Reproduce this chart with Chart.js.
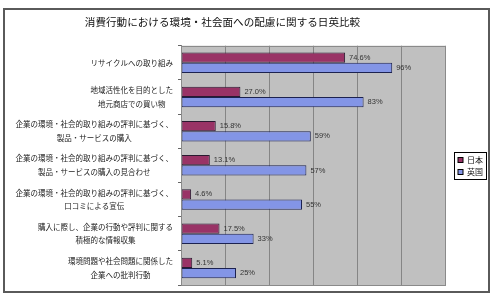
<!DOCTYPE html>
<html><head><meta charset="utf-8">
<script src="https://cdn.jsdelivr.net/npm/chart.js@4"></script>
<style>html,body{margin:0;padding:0;background:#fff}#wrap{width:493px;height:294px}</style>
</head><body><div id="wrap"><canvas id="c" width="493" height="294"></canvas></div>
<script>
const categories = [
  ["リサイクルへの取り組み"],
  ["地域活性化を目的とした","地元商店での買い物"],
  ["企業の環境・社会的取り組みの評判に基づく、","製品・サービスの購入"],
  ["企業の環境・社会的取り組みの評判に基づく、","製品・サービスの購入の見合わせ"],
  ["企業の環境・社会的取り組みの評判に基づく、","口コミによる宣伝"],
  ["購入に際し、企業の行動や評判に関する","積極的な情報収集"],
  ["環境問題や社会問題に関係した","企業への批判行動"]
];
const seriesNames = ["日本","英国"];
const japan = [74.6, 27.0, 15.8, 13.1, 4.6, 17.5, 5.1];
const uk = [96, 83, 59, 57, 55, 33, 25];
const decimals = [1, 0];
const titleText = "消費行動における環境・社会面への配慮に関する日英比較";

const JP = '"Noto Sans CJK JP", sans-serif';
const colors = ['#993366', '#8395e6'];

const framePlugin = {
  id: 'frame',
  beforeDraw(chart) {
    const ctx = chart.ctx, a = chart.chartArea;
    ctx.save();
    ctx.fillStyle = '#fff';
    ctx.fillRect(0, 0, chart.width, chart.height);
    ctx.strokeStyle = '#5a5a5a';
    ctx.lineWidth = 2;
    ctx.strokeRect(4, 9, 485, 283);
    ctx.fillStyle = '#c0c0c0';
    ctx.fillRect(a.left, a.top, a.right - a.left, a.bottom - a.top);
    ctx.restore();
  },
  afterDraw(chart) {
    const ctx = chart.ctx, a = chart.chartArea;
    ctx.save();
    ctx.strokeStyle = '#8a8a8a';
    ctx.lineWidth = 1;
    ctx.strokeRect(Math.round(a.left) + 0.5, Math.round(a.top) + 0.5, Math.round(a.right - a.left), Math.round(a.bottom - a.top));
    // category labels
    const ys = chart.scales.y;
    ctx.fillStyle = '#222';
    ctx.font = '7.5px ' + JP;
    ctx.textAlign = 'center';
    ctx.textBaseline = 'middle';
    const lh = 13.5, rightEdge = 173;
    categories.forEach((lines, i) => {
      const cy = ys.getPixelForValue(i);
      const w = Math.max(...lines.map(l => ctx.measureText(l).width));
      const cx = rightEdge - w / 2;
      const y0 = cy - (lines.length - 1) * lh / 2;
      lines.forEach((l, k) => ctx.fillText(l, cx, y0 + k * lh));
    });
    // data labels
    ctx.font = '7.5px "Liberation Sans", sans-serif';
    ctx.textAlign = 'left';
    ctx.fillStyle = '#333';
    chart.data.datasets.forEach((ds, di) => {
      const meta = chart.getDatasetMeta(di);
      meta.data.forEach((bar, i) => {
        ctx.fillText(ds.data[i].toFixed(decimals[di]) + '%', bar.x + 4, bar.y);
      });
    });
    // legend
    ctx.strokeStyle = '#000';
    ctx.lineWidth = 1;
    ctx.strokeRect(454.5, 152.5, 32, 27);
    ctx.font = '8px ' + JP;
    ctx.fillStyle = '#111';
    seriesNames.forEach((n, k) => {
      const y = 160 + k * 12;
      ctx.fillStyle = colors[k];
      ctx.fillRect(458, y - 2.5, 5, 5);
      ctx.strokeStyle = '#000';
      ctx.strokeRect(458, y - 2.5, 5, 5);
      ctx.fillStyle = '#111';
      ctx.fillText(n, 467, y);
    });
    ctx.restore();
  }
};

new Chart(document.getElementById('c'), {
  type: 'bar',
  data: {
    labels: categories.map(c => c.join('')),
    datasets: [
      { label: seriesNames[0], data: japan, backgroundColor: colors[0], borderColor: '#2a1a30', borderWidth: 1, borderSkipped: false },
      { label: seriesNames[1], data: uk, backgroundColor: colors[1], borderColor: '#1c2250', borderWidth: 1, borderSkipped: false }
    ]
  },
  options: {
    indexAxis: 'y',
    responsive: false,
    animation: false,
    devicePixelRatio: 1,
    layout: { padding: { left: 0, right: 48, top: 0, bottom: 9 } },
    datasets: { bar: { categoryPercentage: 0.6, barPercentage: 1.0 } },
    scales: {
      x: {
        min: 0, max: 120,
        ticks: { display: false, stepSize: 20 },
        grid: { color: '#858585', drawTicks: false },
        border: { display: false }
      },
      y: {
        ticks: { display: false },
        grid: { offset: true, drawOnChartArea: false, drawTicks: true, tickLength: 3, color: '#666' },
        border: { display: true, color: '#808080' },
        afterFit(scale) { scale.width = 181; }
      }
    },
    plugins: {
      legend: { display: false },
      tooltip: { enabled: false },
      title: {
        display: true,
        text: titleText,
        color: '#111',
        font: { family: JP, size: 10.6, weight: 'normal' },
        padding: { top: 15.5, bottom: 17.5 }
      }
    }
  },
  plugins: [framePlugin]
});
</script>
</body></html>
